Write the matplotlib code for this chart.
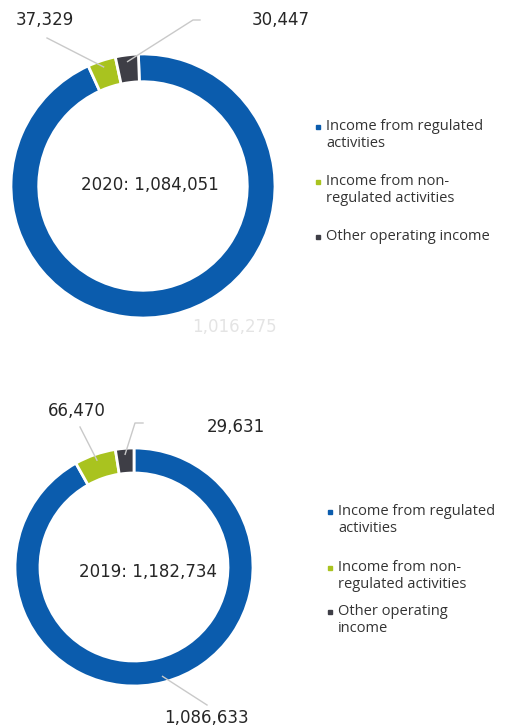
import numpy as np
import matplotlib.pyplot as plt

W, H = 510, 728

categories = ["Income from regulated activities",
              "Income from non-regulated activities",
              "Other operating income"]
years = ["2020", "2019"]
values_2020 = [1016275, 37329, 30447]
values_2019 = [1086633, 66470, 29631]
colors = ["#0b5cad", "#a9c31f", "#3e3e46"]

# legend labels wrap differently in the two panels
legend_top = ["Income from regulated\nactivities",
              "Income from non-\nregulated activities",
              "Other operating income"]
legend_bottom = ["Income from regulated\nactivities",
                 "Income from non-\nregulated activities",
                 "Other operating\nincome"]

fig = plt.figure(figsize=(W / 100, H / 100), dpi=100)

over = fig.add_axes([0, 0, 1, 1], zorder=10)
over.set_xlim(0, W)
over.set_ylim(H, 0)
over.axis("off")

num_font = dict(family="DejaVu Sans", fontsize=12, color="#262626")
leg_font = dict(family="Open Sans", fontsize=10.5, color="#333333")
line_col = "#c9c9c9"


def donut(cx, cy, R, vals, start):
    ax = fig.add_axes([(cx - R) / W, 1 - (cy + R) / H, 2 * R / W, 2 * R / H])
    wedges, _ = ax.pie(vals, colors=colors, startangle=start, counterclock=False,
                       radius=1, wedgeprops=dict(width=0.21, edgecolor="white", linewidth=2))
    ax.set_xlim(-1, 1)
    ax.set_ylim(-1, 1)
    # anchor points (pixels) in the middle of each wedge, near the outer rim
    anchors = []
    for w in wedges:
        mid = np.deg2rad((w.theta1 + w.theta2) / 2)
        anchors.append((cx + 0.95 * R * np.cos(mid), cy - 0.95 * R * np.sin(mid)))
    return anchors


def label(text, pos, path, anchor, color="#262626"):
    over.text(pos[0], pos[1], text, ha="center", va="center", **{**num_font, "color": color})
    if path is not None:
        pts = path + [anchor]
        over.plot([p[0] for p in pts], [p[1] for p in pts], color=line_col, lw=1)


def legend(x, ys, labels):
    for y, lab, c in zip(ys, labels, colors):
        over.plot(x, y, marker="s", ms=3.2, color=c, mec=c)
        over.text(x + 8, y - 8, lab, ha="left", va="top", linespacing=1.15, **leg_font)


# 2020
a = donut(143, 186, 132, values_2020, 92)
over.text(150, 185, f"{years[0]}: {sum(values_2020):,}", ha="center", va="center", **num_font)
label(f"{values_2020[1]:,}", (45, 20), [(47, 38)], a[1])
label(f"{values_2020[2]:,}", (281, 20), [(200, 20), (193, 20)], a[2])
label(f"{values_2020[0]:,}", (234, 327), None, a[0], color="#e4e4e4")
legend(318, [127, 182, 237], legend_top)

# 2019
b = donut(134, 567, 119, values_2019, 90)
over.text(148, 572, f"{years[1]}: {sum(values_2019):,}", ha="center", va="center", **num_font)
label(f"{values_2019[1]:,}", (77, 411), [(80, 427)], b[1])
label(f"{values_2019[2]:,}", (236, 427), [(143, 423), (135, 423)], b[2])
label(f"{values_2019[0]:,}", (206, 718), [(207, 705)], b[0])
legend(330, [512, 568, 612], legend_bottom)

fig.savefig("out.png", dpi=100, facecolor="white")
